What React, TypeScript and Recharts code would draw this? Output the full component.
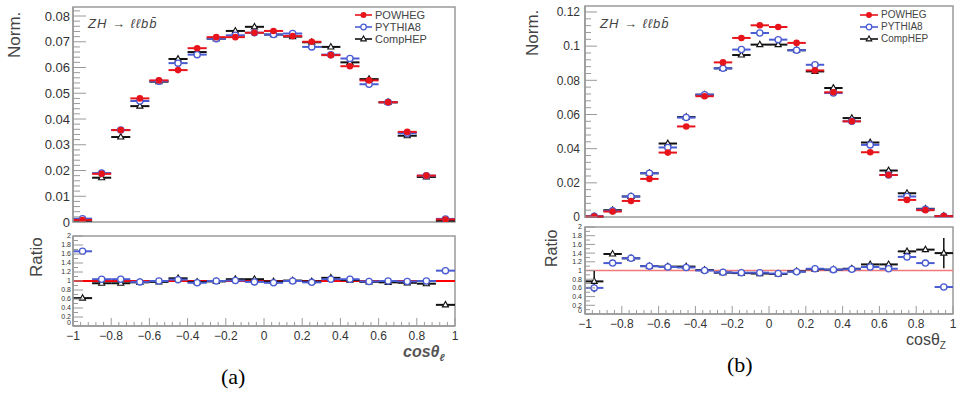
import React from 'react';
import { ScatterChart, Scatter, XAxis, YAxis, ErrorBar, ReferenceLine, ReferenceArea, Legend } from 'recharts';

// ---------- data ----------
const binCenters = [-0.95, -0.85, -0.75, -0.65, -0.55, -0.45, -0.35, -0.25, -0.15, -0.05, 0.05, 0.15, 0.25, 0.35, 0.45, 0.55, 0.65, 0.75, 0.85, 0.95];
const binHalfWidth = 0.05;

// (a) cos theta_l, normalised
const aPowheg = [0.0008, 0.0187, 0.0357, 0.0480, 0.0550, 0.0590, 0.0675, 0.0718, 0.0718, 0.0735, 0.0742, 0.0722, 0.0700, 0.0648, 0.0605, 0.0550, 0.0465, 0.0350, 0.0180, 0.0010];
const aPythia = [0.0013, 0.0190, 0.0357, 0.0470, 0.0547, 0.0617, 0.0650, 0.0712, 0.0725, 0.0735, 0.0728, 0.0732, 0.0680, 0.0650, 0.0635, 0.0535, 0.0465, 0.0345, 0.0180, 0.0012];
const aComphep = [0.0005, 0.0172, 0.0330, 0.0450, 0.0545, 0.0633, 0.0660, 0.0712, 0.0742, 0.0758, 0.0728, 0.0720, 0.0698, 0.0680, 0.0620, 0.0555, 0.0465, 0.0335, 0.0175, 0.0005];
// (a) ratios
const aRatioPythia = [1.66, 1.04, 1.04, 0.98, 1.00, 1.03, 0.96, 1.00, 1.01, 0.98, 0.96, 1.00, 0.97, 1.04, 1.04, 0.99, 1.00, 0.99, 1.00, 1.23];
const aRatioComphep = [0.62, 0.95, 0.95, 0.97, 0.98, 1.06, 0.98, 0.99, 1.04, 1.04, 0.99, 1.01, 0.99, 1.07, 1.02, 0.98, 0.97, 0.96, 0.94, 0.47];

// (b) cos theta_Z, normalised
const bPowheg = [0.0003, 0.0032, 0.0094, 0.0223, 0.0377, 0.0530, 0.0707, 0.0905, 0.1048, 0.1122, 0.1112, 0.1019, 0.0858, 0.0730, 0.0560, 0.0379, 0.0246, 0.0100, 0.0040, 0.0005];
const bPythia = [0.0004, 0.0036, 0.0120, 0.0256, 0.0407, 0.0582, 0.0716, 0.0870, 0.0980, 0.1077, 0.1038, 0.0976, 0.0891, 0.0726, 0.0560, 0.0422, 0.0246, 0.0120, 0.0045, 0.0004];
const bComphep = [0.0003, 0.0040, 0.0120, 0.0256, 0.0430, 0.0585, 0.0716, 0.0870, 0.0948, 0.1009, 0.1009, 0.0976, 0.0852, 0.0755, 0.0579, 0.0436, 0.0272, 0.0139, 0.0048, 0.0006];
// (b) ratios
const bRatioPythia = [0.60, 1.17, 1.28, 1.10, 1.08, 1.07, 1.00, 0.96, 0.95, 0.95, 0.93, 0.97, 1.04, 1.02, 1.03, 1.08, 1.04, 1.31, 1.17, 0.62];
const bRatioComphep = [0.75, 1.38, 1.28, 1.10, 1.09, 1.09, 1.01, 0.95, 0.94, 0.93, 0.92, 0.98, 1.03, 1.02, 1.04, 1.14, 1.14, 1.44, 1.48, 1.40];
const bRatioComphepErr = [0.25, 0.03, 0.02, 0.01, 0.01, 0.01, 0.01, 0.01, 0.01, 0.01, 0.01, 0.01, 0.01, 0.01, 0.01, 0.02, 0.02, 0.04, 0.06, 0.35];

// tick labels
const xMajorTicks = [-1, -0.8, -0.6, -0.4, -0.2, 0, 0.2, 0.4, 0.6, 0.8, 1];
const aYMajorTicks = [0, 0.01, 0.02, 0.03, 0.04, 0.05, 0.06, 0.07, 0.08];
const bYMajorTicks = [0, 0.02, 0.04, 0.06, 0.08, 0.1, 0.12];
const ratioYMajorTicks = [0, 0.2, 0.4, 0.6, 0.8, 1, 1.2, 1.4, 1.6, 1.8, 2];

const seriesNames = ['POWHEG', 'PYTHIA8', 'CompHEP'];

// ---------- style ----------
const RED = '#e8141c';
const BLUE = '#4a5cd2';
const BLACK = '#111111';
const AXIS = '#9a9a9a';
const TXT = '#333333';
const FONT = '"Liberation Sans", Arial, Helvetica, sans-serif';

const makeTicks = (from: number, to: number, step: number) => {
  const n = Math.round((to - from) / step);
  return Array.from({ length: n + 1 }, (_, i) => Number((from + i * step).toFixed(4)));
};
const xMinorTicks = makeTicks(-1, 1, 0.04);
const aYMinorTicks = makeTicks(0, 0.082, 0.002);
const bYMinorTicks = makeTicks(0, 0.12, 0.004);
const ratioYMinorTicks = makeTicks(0, 2, 0.1);

const fmt = (v: number) => (v < 0 ? '\u2212' + String(-v) : String(v));
const findMajor = (majors: number[], v: number) => majors.find((m) => Math.abs(m - v) < 1e-6);

const toPoints = (vals: number[], errs?: number[]) =>
  binCenters.map((x, i) => ({ x, y: vals[i], xe: binHalfWidth, ye: errs ? errs[i] : 0 }));

type Kind = 'powheg' | 'pythia' | 'comphep';
const colorOf: Record<Kind, string> = { powheg: RED, pythia: BLUE, comphep: BLACK };

function Marker({ kind, cx, cy, s = 1 }: { kind: Kind; cx: number; cy: number; s?: number }) {
  if (kind === 'powheg') return <circle cx={cx} cy={cy} r={3.3 * s} fill={RED} />;
  if (kind === 'pythia') return <circle cx={cx} cy={cy} r={3.1 * s} fill="#fff" stroke={BLUE} strokeWidth={1.3} />;
  const r = 3.4 * s;
  return (
    <polygon
      points={`${cx},${cy - r} ${cx - r * 0.9},${cy + r * 0.6} ${cx + r * 0.9},${cy + r * 0.6}`}
      fill="#fff"
      stroke={BLACK}
      strokeWidth={1.1}
    />
  );
}

const xTick = (o: { label: boolean; fs: number; off: number; maj: number; min: number }) => (p: any) => {
  const v = p.payload.value;
  const m = findMajor(xMajorTicks, v);
  const isMaj = m !== undefined;
  return (
    <g>
      <line x1={p.x} x2={p.x} y1={p.y} y2={p.y - (isMaj ? o.maj : o.min)} stroke={AXIS} strokeWidth={1} />
      {o.label && isMaj ? (
        <text x={p.x} y={p.y + o.off} textAnchor="middle" fontSize={o.fs} fill={TXT} fontFamily={FONT}>
          {fmt(m as number)}
        </text>
      ) : null}
    </g>
  );
};

const yTick = (majors: number[], o: { fs: number; off: number; maj: number; min: number; zeroShift?: number }) => (p: any) => {
  const v = p.payload.value;
  const m = findMajor(majors, v);
  const isMaj = m !== undefined;
  const shift = m === 0 && o.zeroShift ? o.zeroShift : 0;
  return (
    <g>
      <line x1={p.x} x2={p.x + (isMaj ? o.maj : o.min)} y1={p.y} y2={p.y} stroke={AXIS} strokeWidth={1} />
      {isMaj ? (
        <text x={p.x - o.off} y={p.y - shift} dy="0.35em" textAnchor="end" fontSize={o.fs} fill={TXT} fontFamily={FONT}>
          {fmt(m as number)}
        </text>
      ) : null}
    </g>
  );
};

function LegendBox({ fs, rowH, lineW }: { fs: number; rowH: number; lineW: number }) {
  const kinds: Kind[] = ['powheg', 'pythia', 'comphep'];
  return (
    <div style={{ display: 'flex', flexDirection: 'column', fontFamily: FONT }}>
      {kinds.map((k, i) => (
        <div key={k} style={{ display: 'flex', alignItems: 'center', height: rowH }}>
          <svg width={lineW} height={10} style={{ display: 'block' }}>
            <line x1={0} x2={lineW} y1={5} y2={5} stroke={colorOf[k]} strokeWidth={1.6} />
            <Marker kind={k} cx={lineW / 2} cy={5} s={0.9} />
          </svg>
          <span style={{ fontSize: fs, color: '#444', marginLeft: 3, lineHeight: 1 }}>{seriesNames[i]}</span>
        </div>
      ))}
    </div>
  );
}

type SeriesDef = { kind: Kind; data: { x: number; y: number; xe: number; ye: number }[] };

function Panel(props: {
  left: number; top: number; width: number; height: number;
  margin: { top: number; right: number; bottom: number; left: number };
  yWidth: number; xHeight: number;
  yDomain: [number, number]; yTicks: number[]; yMajors: number[];
  yOpts: { fs: number; off: number; maj: number; min: number; zeroShift?: number };
  xOpts: { label: boolean; fs: number; off: number; maj: number; min: number };
  series: SeriesDef[];
  refLine?: { color: string; width: number };
  legend?: { left: number; top: number; fs: number; rowH: number; lineW: number };
}) {
  const p = props;
  return (
    <div style={{ position: 'absolute', left: p.left, top: p.top }}>
      <ScatterChart width={p.width} height={p.height} margin={p.margin}>
        <XAxis
          dataKey="x" type="number" domain={[-1, 1]} allowDataOverflow ticks={xMinorTicks} interval={0}
          height={p.xHeight} tickSize={0} tickMargin={0} tickLine={false}
          axisLine={{ stroke: AXIS, strokeWidth: 1.5 }} tick={xTick(p.xOpts)}
        />
        <YAxis
          dataKey="y" type="number" domain={p.yDomain} allowDataOverflow ticks={p.yTicks} interval={0}
          width={p.yWidth} tickSize={0} tickMargin={0} tickLine={false}
          axisLine={{ stroke: AXIS, strokeWidth: 1.5 }} tick={yTick(p.yMajors, p.yOpts)}
        />
        <ReferenceArea x1={-1} x2={1} y1={p.yDomain[0]} y2={p.yDomain[1]} fill="none" stroke={AXIS} strokeWidth={1.5} ifOverflow="extendDomain" />
        {p.refLine ? <ReferenceLine y={1} stroke={p.refLine.color} strokeWidth={p.refLine.width} /> : null}
        {p.series.map((s) => (
          <Scatter
            key={s.kind}
            data={s.data}
            isAnimationActive={false}
            shape={(sp: any) => <Marker kind={s.kind} cx={sp.cx} cy={sp.cy} />}
          >
            <ErrorBar dataKey="xe" direction="x" width={0} stroke={colorOf[s.kind]} strokeWidth={2} isAnimationActive={false} />
            <ErrorBar dataKey="ye" direction="y" width={0} stroke={colorOf[s.kind]} strokeWidth={1.5} isAnimationActive={false} />
          </Scatter>
        ))}
        {p.legend ? (
          <Legend
            layout="horizontal" verticalAlign="middle" align="center"
            wrapperStyle={{ left: p.legend.left, top: p.legend.top, width: 'auto' }}
            content={() => <LegendBox fs={p.legend!.fs} rowH={p.legend!.rowH} lineW={p.legend!.lineW} />}
          />
        ) : null}
      </ScatterChart>
    </div>
  );
}

const rotated = (text: string, left: number, bottom: number, fs: number) => (
  <div
    style={{
      position: 'absolute', left, top: bottom, transform: 'rotate(-90deg)', transformOrigin: 'left top',
      fontSize: fs, lineHeight: 1, color: '#444', fontFamily: FONT, whiteSpace: 'nowrap',
    }}
  >
    {text}
  </div>
);

export default function App() {
  const mainX = { label: false, fs: 0, off: 0, maj: 7, min: 4 };
  const ratioXa = { label: true, fs: 12, off: 14, maj: 8, min: 4 };
  const ratioXb = { label: true, fs: 12, off: 14, maj: 8, min: 4 };
  return (
    <div style={{ position: 'absolute', left: 0, top: 0, width: 960, height: 395, background: '#fff', fontFamily: FONT, overflow: 'hidden' }}>
      {/* (a) main */}
      <Panel
        left={0} top={0} width={470} height={230}
        margin={{ top: 7, right: 15, bottom: 8, left: 0 }} yWidth={73} xHeight={0}
        yDomain={[0, 0.0835]} yTicks={aYMinorTicks} yMajors={aYMajorTicks}
        yOpts={{ fs: 13, off: 3, maj: 13, min: 7 }} xOpts={mainX}
        series={[
          { kind: 'comphep', data: toPoints(aComphep) },
          { kind: 'pythia', data: toPoints(aPythia) },
          { kind: 'powheg', data: toPoints(aPowheg) },
        ]}
        legend={{ left: 355, top: 9, fs: 11, rowH: 12, lineW: 17 }}
      />
      {/* (a) ratio */}
      <Panel
        left={0} top={230} width={470} height={116}
        margin={{ top: 6, right: 15, bottom: 0, left: 0 }} yWidth={73} xHeight={20}
        yDomain={[0, 2]} yTicks={ratioYMinorTicks} yMajors={ratioYMajorTicks}
        yOpts={{ fs: 7, off: 2, maj: 10, min: 5, zeroShift: 3 }} xOpts={ratioXa}
        series={[
          { kind: 'comphep', data: toPoints(aRatioComphep) },
          { kind: 'pythia', data: toPoints(aRatioPythia) },
        ]}
        refLine={{ color: '#ff0000', width: 2 }}
      />
      {/* (b) main */}
      <Panel
        left={490} top={0} width={470} height={225}
        margin={{ top: 6, right: 7, bottom: 8, left: 0 }} yWidth={95} xHeight={0}
        yDomain={[0, 0.1235]} yTicks={bYMinorTicks} yMajors={bYMajorTicks}
        yOpts={{ fs: 12, off: 5, maj: 12, min: 6 }} xOpts={mainX}
        series={[
          { kind: 'comphep', data: toPoints(bComphep) },
          { kind: 'pythia', data: toPoints(bPythia) },
          { kind: 'powheg', data: toPoints(bPowheg) },
        ]}
        legend={{ left: 370, top: 9, fs: 10, rowH: 12, lineW: 18 }}
      />
      {/* (b) ratio */}
      <Panel
        left={490} top={222} width={470} height={112}
        margin={{ top: 5, right: 7, bottom: 0, left: 0 }} yWidth={95} xHeight={20}
        yDomain={[0, 2]} yTicks={ratioYMinorTicks} yMajors={ratioYMajorTicks}
        yOpts={{ fs: 7, off: 3, maj: 10, min: 5, zeroShift: 3 }} xOpts={ratioXb}
        series={[
          { kind: 'comphep', data: toPoints(bRatioComphep, bRatioComphepErr) },
          { kind: 'pythia', data: toPoints(bRatioPythia) },
        ]}
        refLine={{ color: '#f07a7a', width: 1.5 }}
      />

      {/* axis titles */}
      {rotated('Norm.', 6, 58, 17)}
      {rotated('Ratio', 28, 277, 17)}
      {rotated('Norm.', 524, 56, 17)}
      {rotated('Ratio', 544, 267, 16)}

      <div style={{ position: 'absolute', left: 88, top: 16, fontSize: 13, fontStyle: 'italic', letterSpacing: 1, color: '#444', whiteSpace: 'nowrap' }}>
        ZH → ℓℓbb̄
      </div>
      <div style={{ position: 'absolute', left: 600, top: 16, fontSize: 13, fontStyle: 'italic', letterSpacing: 1, color: '#444', whiteSpace: 'nowrap' }}>
        ZH → ℓℓbb̄
      </div>

      <div style={{ position: 'absolute', left: 403, top: 343, fontSize: 16, fontStyle: 'italic', fontWeight: 'bold', color: '#555', whiteSpace: 'nowrap' }}>
        cosθ<sub style={{ fontSize: 10 }}>ℓ</sub>
      </div>
      <div style={{ position: 'absolute', left: 906, top: 331, fontSize: 16, color: '#444', whiteSpace: 'nowrap' }}>
        cosθ<sub style={{ fontSize: 10 }}>Z</sub>
      </div>

      <div style={{ position: 'absolute', left: 221, top: 364, fontSize: 22, fontFamily: '"Liberation Serif", "Times New Roman", serif', color: '#000' }}>(a)</div>
      <div style={{ position: 'absolute', left: 727, top: 352, fontSize: 22, fontFamily: '"Liberation Serif", "Times New Roman", serif', color: '#000' }}>(b)</div>
    </div>
  );
}
